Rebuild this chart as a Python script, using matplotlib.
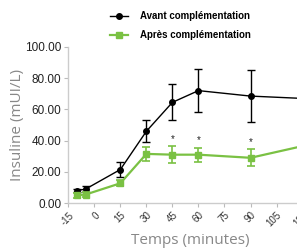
import matplotlib
matplotlib.use("Agg")
import matplotlib.pyplot as plt
from matplotlib.lines import Line2D

plt.rcParams['font.family'] = ['Liberation Sans', 'DejaVu Sans']

time = [-10, -5, 15, 30, 45, 60, 90, 120]
avant = [8.0, 9.0, 21.5, 46.0, 64.5, 72.0, 68.5, 67.0]
avant_err = [1.0, 2.0, 5.0, 7.0, 11.5, 14.0, 16.5, 16.0]
apres = [5.0, 5.5, 12.7, 31.5, 31.0, 31.0, 29.0, 36.5]
apres_err = [1.5, 1.5, 2.0, 4.5, 5.3, 4.5, 5.5, 5.0]
signif = [False, False, False, False, True, True, True, False]
xticks = [-15, 0, 15, 30, 45, 60, 75, 90, 105, 120]
yticks = [0, 20, 40, 60, 80, 100]

GREEN = '#7ac143'

fig = plt.figure(figsize=(2.97, 2.48), dpi=100)
ax = fig.add_axes([0.230, 0.181, 0.818, 0.63])

ax.errorbar(time, avant, yerr=avant_err, color='black', lw=1.0,
            marker='o', ms=4, capsize=3, elinewidth=1.0, capthick=1.0, zorder=3)
ax.errorbar(time, apres, yerr=apres_err, color=GREEN, lw=1.6,
            marker='s', ms=5, capsize=3, elinewidth=1.2, capthick=1.2, zorder=4)

for t, v, e, s in zip(time, apres, apres_err, signif):
    if s:
        ax.text(t, v + e + 1.5, '*', ha='center', va='bottom', fontsize=7, color='#222222')

ax.set_xlim(-15, 125)
ax.set_ylim(0, 100)
ax.set_xticks(xticks)
ax.set_xticklabels([str(x) for x in xticks], rotation=45, ha='right',
                   rotation_mode='anchor', fontsize=7, color='#333333')
ax.set_yticks(yticks)
ax.set_yticklabels([f"{y:.2f}" for y in yticks], fontsize=8.5, color='#222222')
ax.tick_params(axis='both', length=3, width=0.8, color='#bbbbbb', pad=2)
for s in ['top', 'right']:
    ax.spines[s].set_visible(False)
for s in ['left', 'bottom']:
    ax.spines[s].set_color('#cccccc')
    ax.spines[s].set_linewidth(1.0)

ax.set_ylabel('Insuline (mUI/L)', fontsize=11, color='#888888',
              family=['Open Sans', 'DejaVu Sans'], labelpad=0)
ax.set_xlabel('Temps (minutes)', fontsize=11, color='#888888',
              family=['Open Sans', 'DejaVu Sans'], labelpad=3)

handles = [
    Line2D([], [], color='black', lw=1.0, marker='o', ms=4),
    Line2D([], [], color=GREEN, lw=1.6, marker='s', ms=5),
]
labels = ['Avant complémentation', 'Après complémentation']
fig.legend(handles, labels, loc='upper left', bbox_to_anchor=(0.342, 0.99),
           frameon=False, prop={'weight': 'bold', 'size': 7},
           handlelength=1.8, handletextpad=1.3, labelspacing=0.9)

fig.savefig('out.png', dpi=100)
